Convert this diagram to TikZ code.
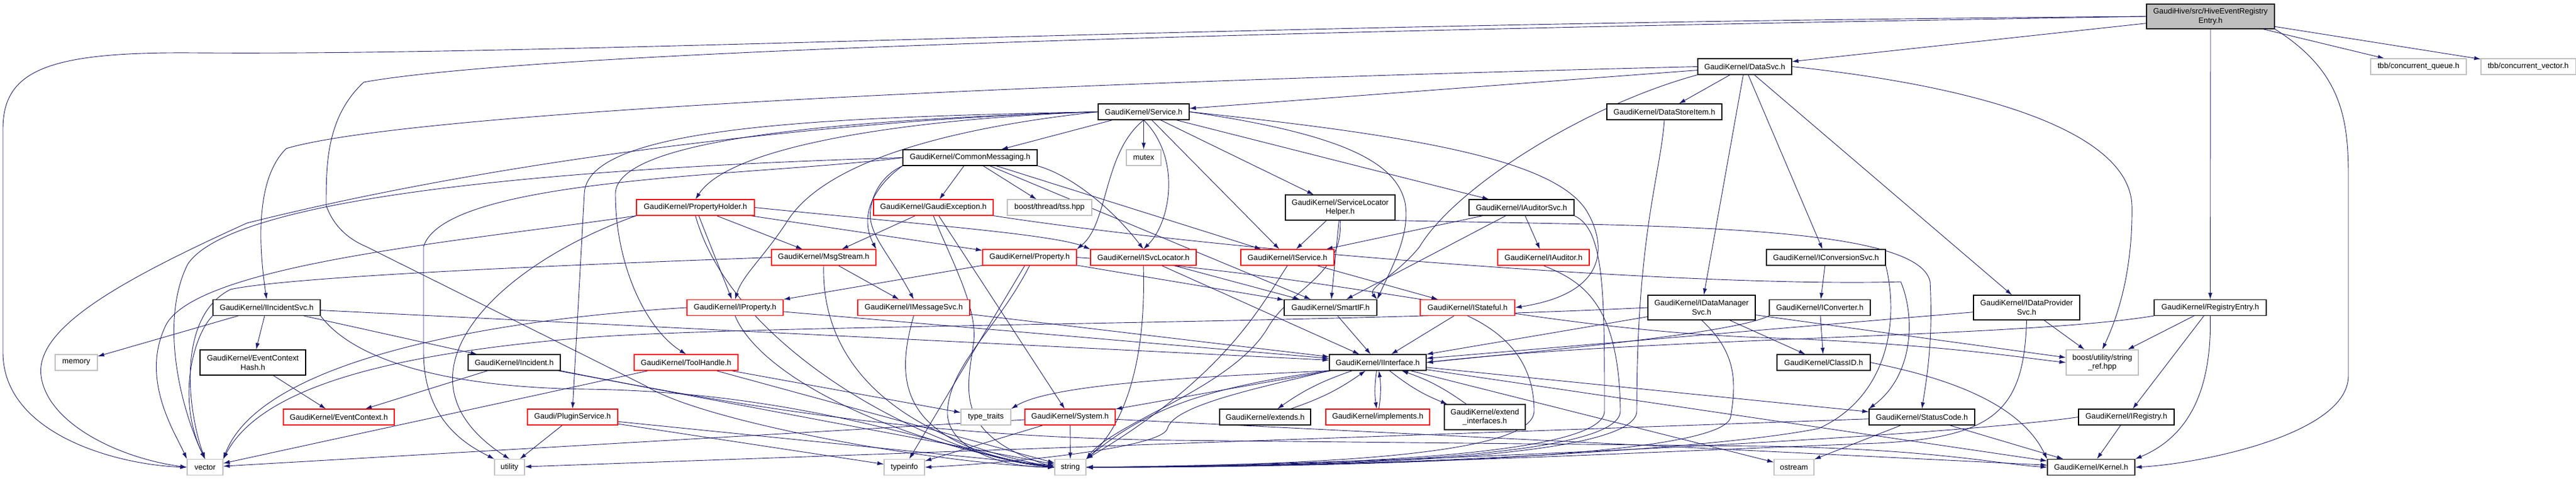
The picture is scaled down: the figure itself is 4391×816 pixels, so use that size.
\documentclass[tikz,border=0pt]{standalone}
\usepackage{fontspec}
\setmainfont{Liberation Sans}
\usetikzlibrary{arrows.meta}
\definecolor{edgec}{HTML}{191970}
\definecolor{grayb}{HTML}{BFBFBF}
\pgfdeclarelayer{bg}
\pgfsetlayers{bg,main}
\newcommand{\fsz}{\fontsize{13.2}{15.7}\selectfont}
\tikzset{
  box/.style={line width=1.1pt, fill=white, inner sep=0pt, align=center, font=\fsz, minimum height=27pt},
  bk/.style={box, draw=black},
  rd/.style={box, draw=red},
  gy/.style={box, draw=grayb},
  tall/.style={minimum height=43pt},
  e/.style={draw=edgec, line width=0.9pt, -{Latex[length=11pt,width=7pt]}},
}
\begin{document}
\begin{tikzpicture}[x=1pt,y=-1pt]
\useasboundingbox (0,0) rectangle (4391,816);
% row 0
\node[bk, fill=grayb, minimum width=218pt, minimum height=42pt] (root) at (3768,28) {GaudiHive/src/HiveEventRegistry\\Entry.h};
% row 1
\node[gy, minimum width=163pt] (cq) at (4122.5,113.5) {tbb/concurrent\_queue.h};
\node[gy, minimum width=161pt] (cv) at (4309.5,113.5) {tbb/concurrent\_vector.h};
\node[bk, minimum width=160pt] (datasvc) at (2974,113.5) {GaudiKernel/DataSvc.h};
% row 2
\node[bk, minimum width=196pt] (dsi) at (2837,190.5) {GaudiKernel/DataStoreItem.h};
\node[bk, minimum width=155pt] (service) at (1949.5,190.5) {GaudiKernel/Service.h};
% row 3
\node[bk, minimum width=229pt] (cm) at (1653.5,268.5) {GaudiKernel/CommonMessaging.h};
\node[gy, minimum width=59pt] (mutex) at (1949.5,268.5) {mutex};
% row 4
\node[rd, minimum width=201pt] (ph) at (1185.5,353.5) {GaudiKernel/PropertyHolder.h};
\node[rd, minimum width=204pt] (gexc) at (1591,353.5) {GaudiKernel/GaudiException.h};
\node[gy, minimum width=144pt] (tss) at (1789,353.5) {boost/thread/tss.hpp};
\node[bk, tall, minimum width=187pt] (slh) at (2284.5,353.5) {GaudiKernel/ServiceLocator\\Helper.h};
\node[bk, minimum width=179pt] (iaudsvc) at (2593.5,353.5) {GaudiKernel/IAuditorSvc.h};
% row 5
\node[rd, minimum width=178pt] (msgstream) at (1404,438.5) {GaudiKernel/MsgStream.h};
\node[rd, minimum width=160pt] (property) at (1755,438.5) {GaudiKernel/Property.h};
\node[rd, minimum width=180pt] (isvcloc) at (1949,438.5) {GaudiKernel/ISvcLocator.h};
\node[rd, minimum width=159pt] (iservice) at (2194.5,438.5) {GaudiKernel/IService.h};
\node[rd, minimum width=156pt] (iauditor) at (2631,438.5) {GaudiKernel/IAuditor.h};
\node[bk, minimum width=203pt] (iconvsvc) at (3112.5,438.5) {GaudiKernel/IConversionSvc.h};
% row 6
\node[bk, minimum width=183pt] (iincsvc) at (454.5,524) {GaudiKernel/IIncidentSvc.h};
\node[rd, minimum width=164pt] (iprop) at (1253,524) {GaudiKernel/IProperty.h};
\node[rd, minimum width=191pt] (imsgsvc) at (1557.5,524) {GaudiKernel/IMessageSvc.h};
\node[bk, minimum width=158pt] (smartif) at (2268,524) {GaudiKernel/SmartIF.h};
\node[rd, minimum width=161pt] (istateful) at (2501.5,524) {GaudiKernel/IStateful.h};
\node[bk, minimum height=42pt, minimum width=183pt] (idms) at (2900.5,524) {GaudiKernel/IDataManager\\Svc.h};
\node[bk, minimum width=172pt] (iconv) at (3102,524) {GaudiKernel/IConverter.h};
\node[bk, minimum height=42pt, minimum width=181pt] (idps) at (3454.5,524) {GaudiKernel/IDataProvider\\Svc.h};
\node[bk, minimum width=191pt] (regentry) at (3767.5,524) {GaudiKernel/RegistryEntry.h};
% row 7
\node[gy, minimum width=72pt] (memory) at (130,617.5) {memory};
\node[bk, tall, minimum width=180pt] (ech) at (431,617.5) {GaudiKernel/EventContext\\Hash.h};
\node[bk, minimum width=157pt] (incident) at (876.5,617.5) {GaudiKernel/Incident.h};
\node[rd, minimum width=177pt] (toolhandle) at (1169.5,617.5) {GaudiKernel/ToolHandle.h};
\node[bk, minimum width=165pt] (iinterface) at (2348.5,617.5) {GaudiKernel/IInterface.h};
\node[bk, minimum width=159pt] (classid) at (3108.5,617.5) {GaudiKernel/ClassID.h};
\node[gy, tall, minimum width=123pt] (stringref) at (3583.5,617.5) {boost/utility/string\\\_ref.hpp};
% row 8
\node[rd, minimum width=189pt] (ec) at (577.5,710.5) {GaudiKernel/EventContext.h};
\node[rd, minimum width=154pt] (plugin) at (976,710.5) {Gaudi/PluginService.h};
\node[gy, minimum width=85pt] (typetraits) at (1680.5,710.5) {type\_traits};
\node[rd, minimum width=154pt] (system) at (1824,710.5) {GaudiKernel/System.h};
\node[bk, minimum width=155pt] (extends) at (2156.5,710.5) {GaudiKernel/extends.h};
\node[rd, minimum width=177pt] (implements) at (2348.5,710.5) {GaudiKernel/implements.h};
\node[bk, tall, minimum width=138pt] (extif) at (2531,710.5) {GaudiKernel/extend\\\_interfaces.h};
\node[bk, minimum width=180pt] (statuscode) at (3276,710.5) {GaudiKernel/StatusCode.h};
\node[bk, minimum width=163pt] (iregistry) at (3624.5,710.5) {GaudiKernel/IRegistry.h};
% row 9
\node[gy, minimum width=61pt] (vector) at (349.5,796) {vector};
\node[gy, minimum width=51pt] (utility) at (868.5,796) {utility};
\node[gy, minimum width=69pt] (typeinfo) at (1541.5,796) {typeinfo};
\node[gy, minimum width=53pt] (string) at (1824.5,796) {string};
\node[gy, minimum width=68pt] (ostream) at (3058,796) {ostream};
\node[bk, minimum width=149pt] (kernel) at (3564.5,796) {GaudiKernel/Kernel.h};

\begin{pgfonlayer}{bg}
% ---- routed edges
\draw[e] (root.west) .. controls (2000,40) and (1000,95) .. (330,90) .. controls (80,88) and (5,120) .. (5,220) -- (5,600) .. controls (5,740) and (200,792) .. (vector.west);
\draw[e] (root.west) .. controls (2000,55) and (900,90) .. (620,140) .. controls (556,200) and (556,280) .. (556,350) .. controls (570,390) and (600,410) .. (624,420) -- (1100,657) .. controls (1200,720) and (1600,790) .. (string.west);
\draw[e] (root.south east) .. controls (3990,120) and (4003,200) .. (4003,300) -- (4003,640) .. controls (4003,740) and (3750,790) .. (kernel.east);
\draw[e] (datasvc.west) .. controls (1800,140) and (700,190) .. (488,253) .. controls (440,300) and (438,400) .. (iincsvc.north);
\draw[e] (datasvc.south west) .. controls (2700,180) and (2480,320) .. (2420,420) .. controls (2380,470) and (2330,490) .. (smartif.north east);
\draw[e] (datasvc.east) .. controls (3400,150) and (3630,230) .. (3634,350) .. controls (3636,480) and (3600,560) .. (stringref.north);
\draw[e] (service.west) .. controls (1500,200) and (900,260) .. (421,380) .. controls (200,480) and (60,560) .. (70,640) .. controls (80,720) and (200,780) .. (vector.west);
\draw[e] (service.west) .. controls (1600,200) and (1250,240) .. (ph.north);
\draw[e] (service.west) .. controls (1600,220) and (1400,280) .. (1340,380) .. controls (1300,440) and (1265,470) .. (iprop.north);
\draw[e] (service.west) .. controls (1400,205) and (1050,240) .. (1049,330) .. controls (1049,450) and (1100,560) .. (toolhandle.north);
\draw[e] (service.west) .. controls (1400,200) and (1000,215) .. (996,330) -- (plugin.north);
\draw[e] (service.south) .. controls (1880,260) and (1890,380) .. (property.north east);
\draw[e] (service.south) .. controls (2015,270) and (1995,380) .. (isvcloc.north);
\draw[e] (service.east) .. controls (2400,230) and (2650,270) .. (2705,360) .. controls (2740,420) and (2740,500) .. (istateful.east);
\draw[e] (service.east) .. controls (2300,230) and (2380,280) .. (2395,345) .. controls (2405,400) and (2370,460) .. (smartif.north east);
\draw[e] (cm.south east) .. controls (1830,300) and (1900,360) .. (isvcloc.north);
\draw[e] (cm.south west) .. controls (1500,300) and (1480,340) .. (1484,375) .. controls (1490,410) and (1520,440) .. (imsgsvc.north);
\draw[e] (cm.south west) .. controls (1500,310) and (1460,360) .. (msgstream.north east);
\draw[e] (cm.west) .. controls (1300,300) and (760,300) .. (722,420) -- (722,600) .. controls (722,720) and (800,760) .. (utility.north west);
\draw[e] (cm.west) .. controls (1000,285) and (400,330) .. (320,450) .. controls (270,550) and (310,700) .. (vector.north);
\draw[e] (ph.east) .. controls (1600,385) and (1800,400) .. (isvcloc.north west);
\draw[e] (ph.south west) .. controls (800,410) and (320,450) .. (280,560) .. controls (240,650) and (300,740) .. (vector.north west);
\draw[e] (ph.south west) .. controls (850,450) and (650,640) .. (utility.north);
\draw[e] (ph.south) .. controls (1250,600) and (1600,780) .. (string.west);
\draw[e] (gexc.south) .. controls (1620,440) and (1665,520) .. (1660,580) .. controls (1650,660) and (1620,740) .. (string.west);
\draw[e] (gexc.south east) .. controls (2100,430) and (2900,490) .. (3240,480) .. controls (3265,540) and (3262,640) .. (statuscode.north west);
\draw[e] (slh.south east) .. controls (2800,385) and (3270,380) .. (3290,480) .. controls (3295,580) and (3285,640) .. (statuscode.north);
\draw[e] (slh.south) .. controls (2290,470) and (2200,490) .. (2160,560) .. controls (2100,660) and (1900,720) .. (string.north east);
\draw[e] (iservice.south) .. controls (2150,520) and (2090,640) .. (string.north east);
\draw[e] (iincsvc.south west) .. controls (330,570) and (300,680) .. (vector.north);
\draw[e] (iincsvc.south east) .. controls (600,610) and (750,660) .. (1000,663) .. controls (1400,668) and (1650,780) .. (string.west);
\draw[e] (incident.south east) .. controls (1300,700) and (1600,745) .. (2000,750) -- (3000,760) .. controls (3300,765) and (3400,790) .. (kernel.west);
\draw[e] (msgstream.south) .. controls (1400,600) and (1500,740) .. (string.west);
\draw[e] (msgstream.west) .. controls (1000,450) and (500,470) .. (393,493) .. controls (300,540) and (320,700) .. (vector.north);
\draw[e] (property.south) .. controls (1700,560) and (1620,620) .. (1615,700) .. controls (1612,760) and (1700,796) .. (string.west);
\draw[e] (property.east) .. controls (2300,470) and (2600,560) .. (3000,575) .. controls (3300,585) and (3450,610) .. (stringref.west);
\draw[e] (isvcloc.south) .. controls (1955,650) and (1900,740) .. (string.north east);
\draw[e] (iprop.west) .. controls (900,540) and (450,600) .. (vector.north east);
\draw[e] (iprop.south) .. controls (1300,650) and (1550,760) .. (string.west);
\draw[e] (imsgsvc.south) .. controls (1525,650) and (1530,760) .. (string.west);
\draw[e] (istateful.south) .. controls (2570,570) and (2615,620) .. (2615,700) .. controls (2615,770) and (2300,792) .. (string.east);
\draw[e] (iaudsvc.south east) .. controls (2735,390) and (2735,500) .. (2735,700) .. controls (2735,775) and (2300,793) .. (string.east);
\draw[e] (iauditor.south) .. controls (2700,480) and (2760,520) .. (2762,700) .. controls (2762,778) and (2300,794) .. (string.east);
\draw[e] (dsi.south) .. controls (2830,300) and (2790,400) .. (2790,700) .. controls (2790,780) and (2300,795) .. (string.east);
\draw[e] (idms.south) .. controls (2960,600) and (2960,650) .. (2950,710) .. controls (2940,780) and (2300,796) .. (string.east);
\draw[e] (idms.west) .. controls (2200,553) and (1300,553) .. (1000,575) .. controls (700,600) and (450,650) .. (vector.north east);
\draw[e] (iconvsvc.south east) .. controls (3240,560) and (3210,680) .. (3100,730) .. controls (2900,770) and (2300,797) .. (string.east);
\draw[e] (idps.south) .. controls (3450,700) and (3400,745) .. (3200,755) .. controls (2800,770) and (2300,797) .. (string.east);
\draw[e] (iregistry.west) .. controls (3300,745) and (2400,790) .. (string.east);
\draw[e] (iconv.south west) .. controls (2950,570) and (2600,600) .. (iinterface.east);
\draw[e] (regentry.south west) .. controls (3450,575) and (2800,575) .. (iinterface.east);
\draw[e] (regentry.south) .. controls (3770,650) and (3740,740) .. (kernel.north east);
\draw[e] (classid.east) .. controls (3300,640) and (3440,680) .. (kernel.north west);
\draw[e] (iinterface.south west) .. controls (2100,640) and (1800,650) .. (typetraits.north east);
\draw[e] (iinterface.south west) .. controls (2150,660) and (2000,690) .. (1990,730) .. controls (1980,765) and (1700,790) .. (typeinfo.east);
\draw[e] (iinterface.south west) .. controls (2050,660) and (1950,700) .. (string.north east);
% ---- straight edges
\foreach \a/\b in {root/datasvc, root/cq, root/cv, root/regentry,
  datasvc/service, datasvc/dsi, datasvc/iconvsvc, datasvc/idms, datasvc/idps,
  service/cm, service/mutex, service/iservice, service/slh, service/iaudsvc,
  cm/gexc, cm/tss, cm/iservice, cm/smartif,
  ph/msgstream, ph/iprop, ph/property,
  gexc/msgstream, gexc/system,
  slh/iservice, slh/smartif,
  iaudsvc/iservice, iaudsvc/iauditor, iaudsvc/smartif,
  iincsvc/memory, iincsvc/ech, iincsvc/incident, iincsvc/iinterface,
  ech/ec, incident/ec, incident/string,
  plugin/utility, plugin/string, plugin/typeinfo,
  msgstream/imsgsvc,
  property/iprop, property/typeinfo, property/smartif,
  isvcloc/smartif, isvcloc/iinterface,
  iprop/iinterface, imsgsvc/iinterface,
  toolhandle/vector, toolhandle/string, toolhandle/typetraits,
  system/string, system/typeinfo, system/kernel, system/vector,
  iservice/istateful, smartif/iinterface, istateful/iinterface,
  idms/iinterface, idms/classid, idms/stringref,
  idps/iinterface, idps/stringref,
  iconvsvc/iconv, iconv/classid,
  regentry/stringref, regentry/iregistry, iregistry/kernel,
  statuscode/ostream, statuscode/kernel, statuscode/utility,
  iinterface/system, iinterface/ostream, iinterface/statuscode, iinterface/kernel}
  \draw[e] (\a) -- (\b);
% ---- bidirectional pairs
\draw[e] (iinterface) to[bend right=8] (extends);
\draw[e] (extends) to[bend right=8] (iinterface);
\draw[e] (iinterface) to[bend right=8] (implements);
\draw[e] (implements) to[bend right=8] (iinterface);
\draw[e] (iinterface) to[bend right=8] (extif);
\draw[e] (extif) to[bend right=8] (iinterface);
\end{pgfonlayer}
\end{tikzpicture}
\end{document}
